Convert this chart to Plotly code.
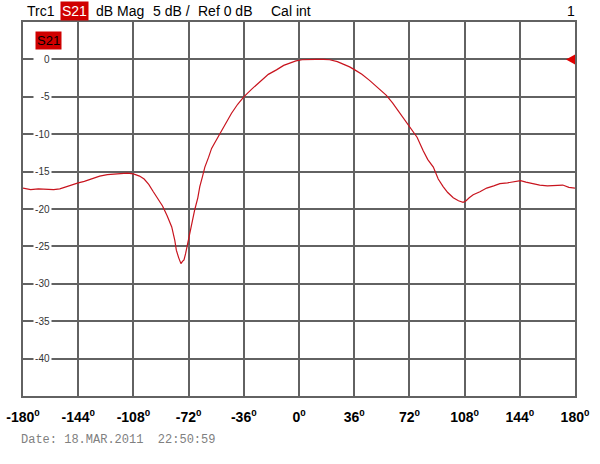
import plotly.graph_objects as go

# ---- data ----
angle_deg = [-180, -175, -170, -165, -160, -156, -152, -148, -144, -140, -135, -130, -125, -120,
             -116, -112, -108, -104, -101, -98, -95, -92, -89, -86, -83, -81, -80, -78.5, -77,
             -76, -75, -74, -73, -72, -70, -68, -66, -64.7, -63, -61.4, -59, -57, -54, -51.6,
             -48, -44, -40, -36, -31, -25.6, -20, -14.7, -10, -6, -2, 2, 6, 11, 16, 20, 25, 29,
             33, 36.4, 41, 46, 51, 57, 61, 66, 69, 72.8, 77, 81, 84, 87.6, 90.8, 94, 97, 100.6,
             104, 107, 109, 111, 113.6, 118, 122.4, 127, 131, 136, 140, 144.5, 148, 152, 157,
             162, 167, 172, 176, 180]
s21_db = [-17.2, -17.4, -17.3, -17.4, -17.4, -17.3, -17.0, -16.8, -16.5, -16.3, -15.9, -15.6,
          -15.4, -15.3, -15.3, -15.2, -15.3, -15.6, -16.0, -16.7, -17.7, -18.6, -19.6, -20.9,
          -22.4, -24.2, -25.5, -26.5, -27.3, -27.0, -26.8, -26.0, -25.0, -23.8, -22.0, -20.1,
          -18.5, -17.0, -15.7, -14.4, -13.1, -11.9, -10.8, -9.9, -8.6, -7.2, -6.0, -5.0, -4.0,
          -3.0, -2.0, -1.4, -0.8, -0.5, -0.2, -0.05, 0.0, 0.0, 0.0, -0.05, -0.3, -0.6, -1.0,
          -1.4, -2.0, -2.8, -3.7, -4.8, -5.8, -7.2, -8.1, -9.2, -10.4, -12.2, -13.4, -14.4,
          -16.0, -17.0, -17.8, -18.5, -18.9, -19.1, -18.9, -18.5, -18.1, -17.7, -17.2, -16.9,
          -16.6, -16.5, -16.4, -16.2, -16.4, -16.6, -16.8, -16.9, -16.8, -16.8, -17.1, -17.2]

x_ticks = [-180, -144, -108, -72, -36, 0, 36, 72, 108, 144, 180]
x_tick_labels = ["-180", "-144", "-108", "-72", "-36", "0", "36", "72", "108", "144", "180"]
y_ticks = [0, -5, -10, -15, -20, -25, -30, -35, -40]
y_tick_labels = ["0", "-5", "-10", "-15", "-20", "-25", "-30", "-35", "-40"]
ref_level = 0
header_items = ["Trc1", "S21", "dB Mag", "5 dB /", "Ref 0 dB", "Cal int"]
channel_label = "1"
date_text = "Date: 18.MAR.2011\u00a0\u00a022:50:59"

# ---- layout geometry ----
W, H = 600, 464
L, R, T, B = 23, 25, 22, 68
PW, PH = W - L - R, H - T - B


def px(xp):
    return (xp - L) / PW


def py(yp):
    return 1 - (yp - T) / PH


SANS = "Liberation Sans, Arial"
TRACE_RED = "#c8141e"
GRID = "#626262"

fig = go.Figure()
fig.add_trace(go.Scatter(x=angle_deg, y=s21_db, mode="lines",
                         line=dict(color=TRACE_RED, width=1.2), hoverinfo="skip",
                         showlegend=False))

fig.update_layout(
    width=W, height=H, margin=dict(l=L, r=R, t=T, b=B, autoexpand=False),
    paper_bgcolor="white", plot_bgcolor="white",
    xaxis=dict(range=[-180, 180], tickvals=x_ticks,
               ticktext=[f"<b>{t}<sup>0</sup></b>" for t in x_tick_labels],
               tickfont=dict(family=SANS, size=14, color="black"),
               showgrid=True, gridcolor=GRID, gridwidth=1.5, zeroline=False,
               showline=True, linecolor=GRID, linewidth=1.5, mirror=True,
               ticks="", ticklabelstandoff=7, automargin=False, fixedrange=True),
    yaxis=dict(range=[-45, 5], tickvals=y_ticks, showticklabels=False,
               showgrid=True, gridcolor=GRID, gridwidth=1.5, zeroline=False,
               showline=True, linecolor=GRID, linewidth=1.5, mirror=True,
               ticks="", automargin=False, fixedrange=True),
)

# y tick labels drawn inside the plot with white background
for v, t in zip(y_ticks, y_tick_labels):
    fig.add_annotation(x=px(52), y=v, xref="paper", yref="y", text=t,
                       xanchor="right", yanchor="middle", showarrow=False,
                       width=15, align="right", bgcolor="white", borderpad=1,
                       font=dict(family=SANS, size=10, color="#333333"))

# header line
hdr_x = [25, 60, 94, 151, 196, 269]
for xpos, t in zip(hdr_x, header_items):
    is_param = (t == "S21")
    fig.add_annotation(x=px(xpos), y=py(11), xref="paper", yref="paper", text=t,
                       xanchor="left", yanchor="middle", showarrow=False,
                       bgcolor="#d00000" if is_param else None, borderpad=1,
                       font=dict(family=SANS, size=14,
                                 color="white" if is_param else "black"))
fig.add_annotation(x=px(577), y=py(11), xref="paper", yref="paper", text=channel_label,
                   xanchor="right", yanchor="middle", showarrow=False,
                   font=dict(family=SANS, size=14, color="black"))

# trace label inside the grid
fig.add_annotation(x=px(35), y=py(40.5), xref="paper", yref="paper", text="S21",
                   xanchor="left", yanchor="middle", showarrow=False,
                   bgcolor="#d00000", borderpad=1,
                   font=dict(family=SANS, size=13, color="black"))

# reference level marker at right edge
fig.add_shape(type="path", xref="x", yref="y", xsizemode="pixel", ysizemode="pixel",
              xanchor=180, yanchor=ref_level, path="M 0 -5 L -9 0 L 0 5 Z",
              fillcolor="#e00000", line=dict(width=0))

# date stamp
fig.add_annotation(x=px(19), y=py(440), xref="paper", yref="paper", text=date_text,
                   xanchor="left", yanchor="middle", showarrow=False,
                   font=dict(family="Liberation Mono, Courier New, monospace", size=12,
                             color="#808080"))

fig.write_html("out.html", config={"displayModeBar": False},
               post_script="document.body.style.margin='0px';")
